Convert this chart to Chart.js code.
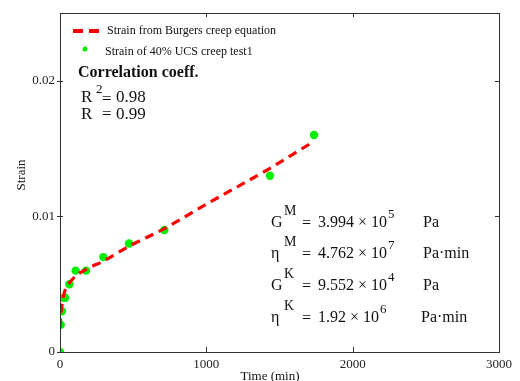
<!DOCTYPE html>
<html><head><meta charset="utf-8">
<script src="https://cdn.jsdelivr.net/npm/chart.js@4/dist/chart.umd.min.js"></script>
<style>html,body{margin:0;padding:0;background:#fff}#wrap{width:520px;height:381px}</style>
</head><body><div id="wrap"><canvas id="c" width="520" height="381"></canvas></div>
<script>
// Burgers creep model curve
const fitTime   = [0, 3, 8, 15, 25, 40, 64, 107, 178, 296, 472, 713, 1000, 1435, 1730];
const fitStrain = [0.0018, 0.0024, 0.0030, 0.0036, 0.0042, 0.0047, 0.0051, 0.0056, 0.0061, 0.0067, 0.0078, 0.0091, 0.0109, 0.01355, 0.0155];
// Creep test measurements
const testTime   = [0, 5, 13, 25, 35, 64, 107, 178, 296, 472, 713, 1435, 1736];
const testStrain = [0, 0.002, 0.003, 0.004, 0.004, 0.005, 0.006, 0.006, 0.007, 0.008, 0.009, 0.013, 0.016];
const xTicks = [0, 1000, 2000, 3000];
const yTicks = [0, 0.01, 0.02];
const seriesNames = ['Strain from Burgers creep equation', 'Strain of 40% UCS creep test1'];
const params = [
  {sym:'G', sup:'M', val:'3.994 \u00d7 10', exp:'5', unit:'Pa'},
  {sym:'\u03b7', sup:'M', val:'4.762 \u00d7 10', exp:'7', unit:'Pa\u00b7min'},
  {sym:'G', sup:'K', val:'9.552 \u00d7 10', exp:'4', unit:'Pa'},
  {sym:'\u03b7', sup:'K', val:'1.92 \u00d7 10', exp:'6', unit:'Pa\u00b7min'}
];

const SERIF = '"Liberation Serif", "Times New Roman", serif';
const RED = '#ff0000', GREEN = '#00ee00';

const decor = {
  id: 'decor',
  afterDraw(chart) {
    const ctx = chart.ctx, a = chart.chartArea;
    const xs = chart.scales.x, ys = chart.scales.y;
    ctx.save();
    // frame
    ctx.strokeStyle = '#333'; ctx.lineWidth = 1;
    ctx.strokeRect(Math.round(a.left)+0.5, Math.round(a.top)+0.5, Math.round(a.right-a.left), Math.round(a.bottom-a.top));
    // ticks
    ctx.beginPath();
    xTicks.forEach(v => {
      const px = Math.round(xs.getPixelForValue(v)) + 0.5;
      ctx.moveTo(px, a.bottom); ctx.lineTo(px, a.bottom - 5);
      ctx.moveTo(px, a.top); ctx.lineTo(px, a.top + 4);
    });
    yTicks.forEach(v => {
      const py = Math.round(ys.getPixelForValue(v)) + 0.5;
      ctx.moveTo(a.left - 3, py); ctx.lineTo(a.left + 3, py);
      ctx.moveTo(a.right, py); ctx.lineTo(a.right - 4, py);
    });
    ctx.stroke();

    // axis titles
    ctx.fillStyle = '#111';
    ctx.font = '13px ' + SERIF;
    ctx.textAlign = 'center'; ctx.textBaseline = 'middle';
    ctx.save(); ctx.translate(22, 175); ctx.rotate(-Math.PI/2); ctx.fillText('Strain', 0, 0); ctx.restore();
    ctx.fillText('Time (min)', 270, 377);

    // legend
    ctx.textAlign = 'left';
    ctx.strokeStyle = RED; ctx.lineWidth = 4; ctx.setLineDash([10, 6]);
    ctx.beginPath(); ctx.moveTo(73, 31); ctx.lineTo(99, 31); ctx.stroke();
    ctx.setLineDash([]);
    ctx.fillStyle = GREEN; ctx.beginPath(); ctx.arc(85, 49, 2.5, 0, Math.PI*2); ctx.fill();
    ctx.fillStyle = '#111'; ctx.font = '12px ' + SERIF;
    ctx.fillText(seriesNames[0], 107, 31);
    ctx.fillText(seriesNames[1], 105, 52);

    // correlation block
    ctx.textBaseline = 'alphabetic';
    ctx.font = 'bold 16px ' + SERIF;
    ctx.fillText('Correlation coeff.', 78, 77);
    ctx.font = '17px ' + SERIF;
    ctx.fillText('R', 81, 102);
    ctx.font = '13px ' + SERIF; ctx.fillText('2', 96, 93);
    ctx.font = '17px ' + SERIF;
    ctx.fillText('=', 102, 104); ctx.fillText('0.98', 116, 102);
    ctx.fillText('R', 81, 119); ctx.fillText('=', 102, 119); ctx.fillText('0.99', 116, 119);

    // parameter block
    const bases = [227, 258, 290, 322];
    params.forEach((p, i) => {
      const b = bases[i];
      ctx.font = '16px ' + SERIF;
      ctx.fillText(p.sym, 271, b);
      ctx.font = '14px ' + SERIF;
      ctx.fillText(p.sup, 284, b - 12);
      ctx.font = '16px ' + SERIF;
      ctx.fillText('=', 302, b + 1);
      const vx = 318;
      ctx.fillText(p.val, vx, b);
      const w = ctx.measureText(p.val).width;
      ctx.font = '13px ' + SERIF;
      ctx.fillText(p.exp, vx + w + 1, b - 9);
      ctx.font = '16px ' + SERIF;
      ctx.fillText(p.unit, i === 3 ? 421 : 423, b);
    });
    ctx.restore();
  }
};

new Chart(document.getElementById('c'), {
  type: 'scatter',
  data: {
    datasets: [
      {
        label: seriesNames[0],
        data: fitTime.map((t, i) => ({x: t, y: fitStrain[i]})),
        showLine: true, borderColor: RED, borderWidth: 3.2, borderDash: [9, 6],
        pointRadius: 0, fill: false, tension: 0.4, cubicInterpolationMode: 'monotone'
      },
      {
        label: seriesNames[1],
        data: testTime.map((t, i) => ({x: t, y: testStrain[i]})),
        showLine: false, pointRadius: 4.2, pointBackgroundColor: GREEN, pointBorderWidth: 0, pointBorderColor: GREEN
      }
    ]
  },
  options: {
    responsive: false, animation: false,
    layout: {padding: {top: 13, right: 21, left: 0, bottom: 0}},
    plugins: {legend: {display: false}, tooltip: {enabled: false}},
    scales: {
      x: {
        type: 'linear', min: 0, max: 3000,
        afterFit: s => { s.height = 29; },
        afterBuildTicks: s => { s.ticks = xTicks.map(v => ({value: v})); },
        grid: {display: false, drawTicks: false}, border: {display: false},
        ticks: {padding: 5, color: '#222', font: {family: SERIF, size: 13}, maxRotation: 0, callback: v => String(v)}
      },
      y: {
        type: 'linear', min: 0, max: 0.025,
        afterFit: s => { s.width = 60; },
        afterBuildTicks: s => { s.ticks = yTicks.map(v => ({value: v})); },
        grid: {display: false, drawTicks: false}, border: {display: false},
        ticks: {padding: 5, color: '#222', font: {family: SERIF, size: 13}, callback: v => String(v)}
      }
    }
  },
  plugins: [decor]
});
</script>
</body></html>
